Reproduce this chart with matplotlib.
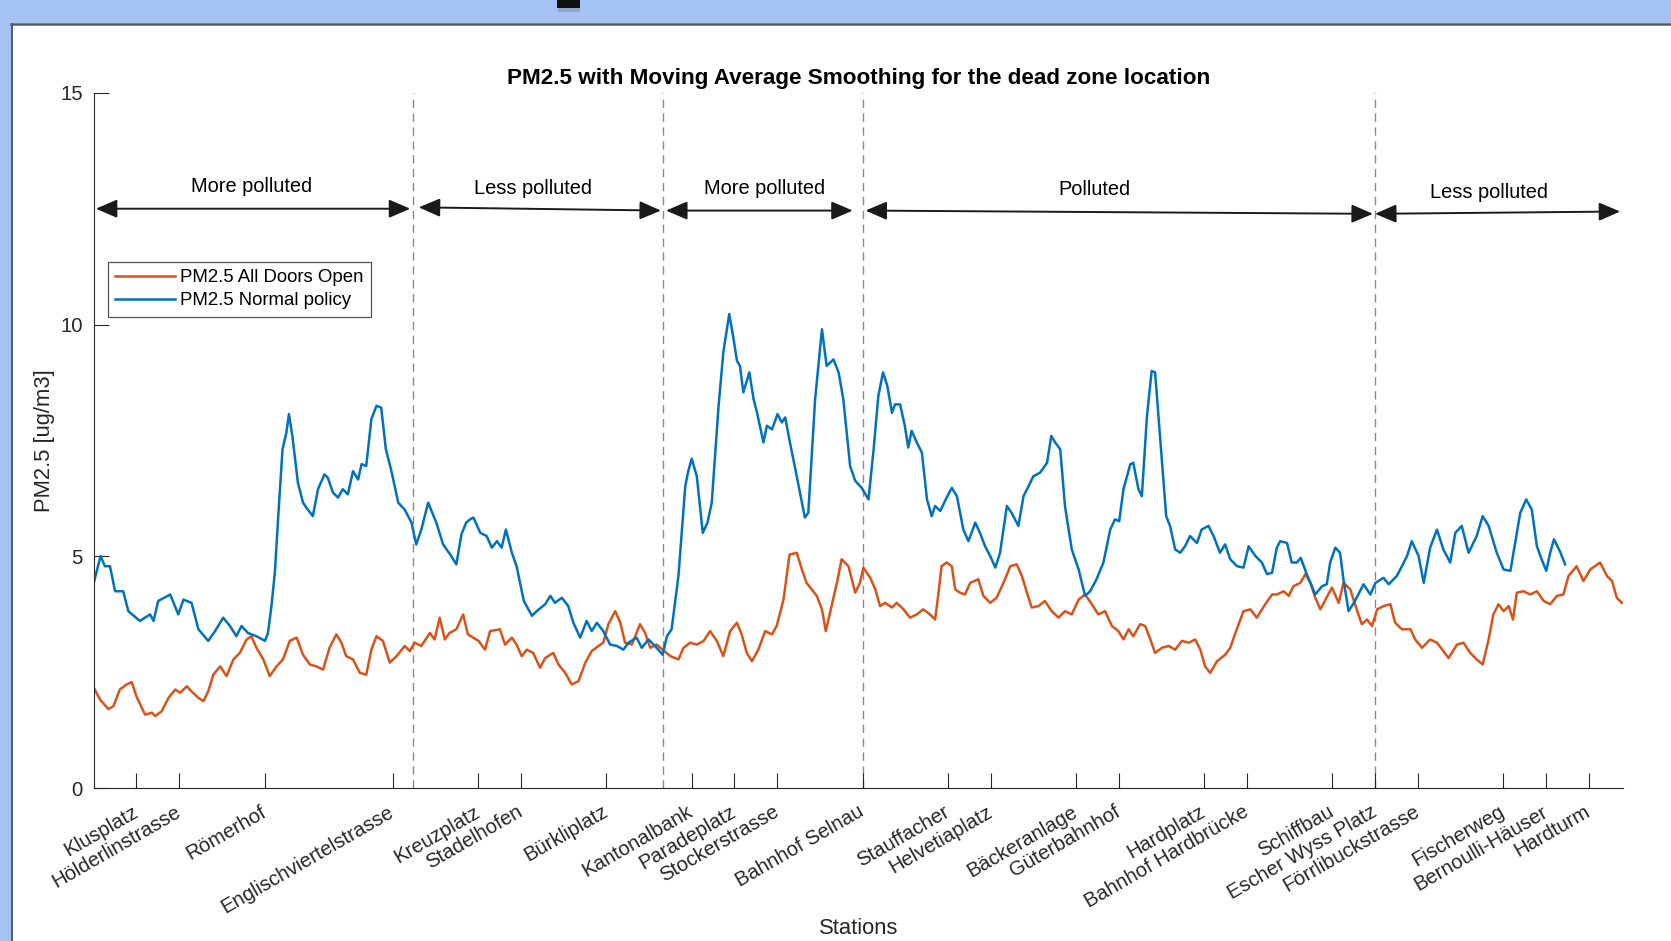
import matplotlib
matplotlib.use("Agg")
import matplotlib.pyplot as plt
from matplotlib.patches import Rectangle
from matplotlib.lines import Line2D

plt.rcParams['font.family'] = ['Liberation Sans', 'DejaVu Sans']

# station ticks along the route
stations = ["Klusplatz", "Hölderlinstrasse", "Römerhof", "Englischviertelstrasse",
            "Kreuzplatz", "Stadelhofen", "Bürkliplatz", "Kantonalbank", "Paradeplatz",
            "Stockerstrasse", "Bahnhof Selnau", "Stauffacher", "Helvetiaplatz",
            "Bäckeranlage", "Güterbahnhof", "Hardplatz", "Bahnhof Hardbrücke",
            "Schiffbau", "Escher Wyss Platz", "Förrlibuckstrasse", "Fischerweg",
            "Bernoulli-Häuser", "Hardturm"]
station_pos = [1, 2, 4, 7, 9, 10, 12, 14, 15, 16, 18, 20, 21, 23, 24, 26, 27,
               29, 30, 31, 33, 34, 35]

# zone boundaries and labels
zone_bounds = [7.48, 13.32, 18.0, 30.0]
zone_names = ["More polluted", "Less polluted", "More polluted", "Polluted", "Less polluted"]
zone_start = [0.05, 7.61, 13.40, 18.07, 30.0]
zone_end = [7.41, 13.28, 17.77, 29.95, 35.74]
zone_y_start = [12.50, 12.53, 12.46, 12.46, 12.39]
zone_y_end = [12.50, 12.46, 12.46, 12.39, 12.44]
zone_text_x = [3.70, 10.29, 15.71, 23.44, 32.67]
zone_text_y = [12.97, 12.93, 12.93, 12.91, 12.84]

# PM2.5 Normal policy
normal_x = [0.00, 0.16, 0.26, 0.38, 0.50, 0.69, 0.81, 1.08, 1.32, 1.40, 1.51, 1.79, 1.98, 2.10,
            2.29, 2.45, 2.68, 2.84, 3.03, 3.19, 3.34, 3.46, 3.61, 3.81, 4.01, 4.08, 4.16, 4.24,
            4.32, 4.42, 4.51, 4.57, 4.65, 4.78, 4.90, 4.98, 5.13, 5.25, 5.40, 5.48, 5.60, 5.72,
            5.83, 5.95, 6.07, 6.19, 6.27, 6.38, 6.50, 6.62, 6.73, 6.84, 6.97, 7.13, 7.28, 7.44,
            7.55, 7.67, 7.83, 8.02, 8.18, 8.37, 8.49, 8.61, 8.72,
            8.81, 8.89, 9.05, 9.20, 9.32, 9.44, 9.55, 9.65, 9.79, 9.90, 10.07, 10.26, 10.37,
            10.57, 10.69, 10.80, 10.96, 11.11, 11.23, 11.39, 11.54, 11.66, 11.78, 11.93, 12.09,
            12.25, 12.40, 12.52, 12.71, 12.83, 12.99, 13.18, 13.32, 13.42, 13.53, 13.69, 13.85,
            13.92, 14.00, 14.12, 14.26, 14.37, 14.47, 14.63, 14.74, 14.88, 14.98, 15.06, 15.13,
            15.21, 15.35, 15.45, 15.53, 15.68, 15.76, 15.88, 16.01, 16.11, 16.19, 16.30, 16.46,
            16.58, 16.65, 16.73, 16.89, 17.05, 17.16, 17.32, 17.44, 17.55,
            17.71, 17.83, 17.98, 18.14, 18.26, 18.37, 18.48, 18.58, 18.69, 18.76, 18.88, 18.99,
            19.07, 19.15, 19.27, 19.39, 19.51, 19.62, 19.70, 19.82, 19.97, 20.09, 20.21, 20.36,
            20.48, 20.64, 20.75, 20.87, 20.99, 21.11, 21.22, 21.38, 21.49, 21.65, 21.77, 21.89,
            22.00, 22.16, 22.32, 22.42, 22.51, 22.63, 22.74, 22.90, 23.06, 23.21, 23.33, 23.48,
            23.64, 23.80, 23.91, 24.01, 24.11, 24.27, 24.34, 24.46, 24.54, 24.66, 24.77, 24.85,
            24.97, 25.11, 25.20, 25.32, 25.44, 25.55, 25.67, 25.83, 25.94, 26.10, 26.22, 26.37,
            26.49,
            26.61, 26.77, 26.92, 27.04, 27.20, 27.35, 27.47, 27.59, 27.70, 27.78, 27.94, 28.05,
            28.17, 28.26, 28.40, 28.60, 28.76, 28.87, 28.95, 29.07, 29.18, 29.26, 29.38, 29.53,
            29.73, 29.89, 30.01, 30.20, 30.32, 30.51, 30.63, 30.75, 30.86, 31.02, 31.14, 31.29,
            31.45, 31.60, 31.76, 31.88, 32.03, 32.19, 32.38, 32.52, 32.66, 32.85, 33.01, 33.17,
            33.28, 33.40, 33.54, 33.67, 33.79, 33.90, 34.01, 34.10, 34.19, 34.33, 34.45]
normal_y = [4.43, 5.01, 4.79, 4.79, 4.25, 4.25, 3.82, 3.61, 3.75, 3.61, 4.04, 4.18, 3.75, 4.07,
            4.00, 3.43, 3.18, 3.39, 3.68, 3.50, 3.28, 3.50, 3.35, 3.28, 3.18, 3.35, 3.93, 4.65,
            5.87, 7.31, 7.67, 8.07, 7.60, 6.59, 6.16, 6.05, 5.87, 6.45, 6.77, 6.70, 6.38, 6.27,
            6.45, 6.34, 6.84, 6.66, 6.99, 6.95, 7.96, 8.25, 8.21, 7.31, 6.84, 6.16, 6.01, 5.73,
            5.26, 5.58, 6.16, 5.73, 5.26, 5.01, 4.83, 5.48, 5.73,
            5.80, 5.84, 5.51, 5.44, 5.19, 5.33, 5.19, 5.58, 5.08, 4.79, 4.04, 3.72, 3.82,
            3.97, 4.15, 4.00, 4.11, 3.93, 3.57, 3.25, 3.61, 3.39, 3.57, 3.39, 3.10,
            3.07, 2.99, 3.14, 3.25, 3.03, 3.21, 3.03, 2.88, 3.28, 3.43, 4.58, 6.52,
            6.84, 7.11, 6.73, 5.51, 5.73, 6.16, 8.25, 9.40, 10.23, 9.69, 9.22, 9.11,
            8.54, 8.97, 8.39, 8.10, 7.46, 7.82, 7.74, 8.07, 7.89, 8.00, 7.46, 6.73,
            6.16, 5.84, 5.94, 8.39, 9.90, 9.11, 9.25, 8.97, 8.39,
            6.95, 6.63, 6.48, 6.23, 7.31, 8.46, 8.97, 8.68, 8.10, 8.28, 8.28, 7.82,
            7.35, 7.71, 7.46, 7.24, 6.23, 5.87, 6.09, 5.98, 6.27, 6.48, 6.30, 5.58,
            5.33, 5.73, 5.51, 5.22, 5.01, 4.76, 5.08, 6.09, 5.94, 5.66, 6.30, 6.52,
            6.73, 6.81, 7.02, 7.60, 7.46, 7.31, 6.09, 5.15, 4.72, 4.15, 4.25, 4.51,
            4.87, 5.58, 5.80, 5.76, 6.45, 6.99, 7.02, 6.45, 6.30, 8.03, 9.00, 8.97,
            7.53, 5.87, 5.66, 5.15, 5.08, 5.22, 5.44, 5.29, 5.58, 5.66, 5.44, 5.08,
            5.26,
            4.94, 4.79, 4.76, 5.22, 5.01, 4.87, 4.62, 4.65, 5.19, 5.33, 5.29, 4.87,
            4.87, 4.97, 4.62, 4.18, 4.36, 4.40, 4.87, 5.19, 5.08, 4.51, 3.82, 4.04,
            4.40, 4.18, 4.43, 4.54, 4.40, 4.58, 4.79, 5.01, 5.33, 5.01, 4.43, 5.19,
            5.58, 5.15, 4.87, 5.51, 5.66, 5.08, 5.44, 5.87, 5.66, 5.08, 4.72, 4.69,
            5.29, 5.94, 6.23, 6.01, 5.22, 4.94, 4.69, 5.08, 5.37, 5.11, 4.83]

# PM2.5 All Doors Open
open_x = [0.00, 0.15, 0.34, 0.46, 0.61, 0.77, 0.89, 1.00, 1.20, 1.36, 1.44, 1.59, 1.75, 1.91,
          2.02, 2.18, 2.29, 2.45, 2.57, 2.68, 2.80, 2.96, 3.11, 3.27, 3.42, 3.58, 3.69, 3.81,
          3.97, 4.12, 4.28, 4.43, 4.59, 4.75, 4.90, 5.06, 5.21, 5.37, 5.52, 5.68, 5.80, 5.91,
          6.07, 6.23, 6.38, 6.50, 6.62, 6.77, 6.93, 7.09, 7.28, 7.40, 7.51, 7.67, 7.87, 7.98,
          8.10, 8.22, 8.33, 8.49, 8.65, 8.76,
          9.01, 9.16, 9.28, 9.51, 9.63, 9.79, 9.90, 10.02, 10.14, 10.29, 10.45, 10.57, 10.76,
          10.88, 11.04, 11.19, 11.35, 11.51, 11.66, 11.82, 11.93, 12.05, 12.21, 12.33, 12.44,
          12.60, 12.79, 12.91, 13.03, 13.18, 13.32, 13.50, 13.69, 13.81, 13.96, 14.12, 14.28,
          14.43, 14.59, 14.74, 14.90, 15.06, 15.17, 15.29, 15.41, 15.56, 15.72, 15.88, 15.99,
          16.15, 16.29, 16.46, 16.58, 16.69, 16.81, 16.93, 17.05, 17.14, 17.24, 17.40, 17.51,
          17.67,
          17.83, 17.94, 18.02, 18.18, 18.30, 18.41, 18.53, 18.69, 18.80, 18.96, 19.11, 19.27,
          19.42, 19.58, 19.70, 19.78, 19.85, 19.97, 20.09, 20.17, 20.28, 20.40, 20.52, 20.71,
          20.83, 20.99, 21.14, 21.30, 21.46, 21.61, 21.73, 21.85, 21.96, 22.12, 22.27, 22.43,
          22.59, 22.74, 22.90, 23.06, 23.21, 23.37, 23.52, 23.68, 23.84, 23.99, 24.11, 24.23,
          24.34, 24.50, 24.62, 24.74, 24.85, 25.01, 25.17, 25.32, 25.48, 25.64, 25.79, 25.91,
          26.02, 26.14, 26.30, 26.49,
          26.61, 26.73, 26.92, 27.08, 27.23, 27.43, 27.59, 27.70, 27.86, 27.98, 28.09, 28.25,
          28.37, 28.49, 28.60, 28.72, 28.84, 28.99, 29.15, 29.26, 29.42, 29.57, 29.69, 29.81,
          29.93, 30.05, 30.20, 30.36, 30.47, 30.63, 30.83, 30.94, 31.10, 31.29, 31.45, 31.60,
          31.72, 31.92, 32.07, 32.23, 32.38, 32.52, 32.66, 32.77, 32.89, 33.01, 33.13, 33.23,
          33.32, 33.48, 33.63, 33.79, 33.95, 34.10, 34.26, 34.41, 34.53, 34.72, 34.88, 35.04,
          35.27, 35.43, 35.55, 35.66, 35.78]
open_y = [2.17, 1.91, 1.71, 1.77, 2.13, 2.24, 2.29, 1.98, 1.59, 1.63, 1.56, 1.66, 1.95, 2.13,
          2.06, 2.20, 2.09, 1.95, 1.88, 2.09, 2.45, 2.63, 2.42, 2.78, 2.92, 3.21, 3.28, 3.03,
          2.78, 2.42, 2.63, 2.78, 3.18, 3.25, 2.88, 2.67, 2.63, 2.56, 3.03, 3.32, 3.14, 2.85,
          2.78, 2.49, 2.45, 2.99, 3.28, 3.18, 2.71, 2.85, 3.07, 2.96, 3.14, 3.07, 3.35, 3.21,
          3.68, 3.21, 3.35, 3.43, 3.75, 3.32,
          3.18, 2.99, 3.39, 3.43, 3.10, 3.25, 3.10, 2.85, 2.99, 2.92, 2.60, 2.81, 2.92,
          2.67, 2.49, 2.24, 2.31, 2.71, 2.96, 3.07, 3.14, 3.54, 3.82, 3.57, 3.14,
          3.10, 3.54, 3.35, 3.03, 3.10, 2.99, 2.85, 2.78, 3.03, 3.14, 3.10, 3.18,
          3.39, 3.18, 2.85, 3.39, 3.57, 3.32, 2.92, 2.74, 2.99, 3.39, 3.32, 3.50,
          4.07, 5.04, 5.08, 4.72, 4.43, 4.29, 4.15, 3.86, 3.39, 3.79, 4.43, 4.94,
          4.79,
          4.22, 4.43, 4.76, 4.54, 4.29, 3.93, 4.00, 3.90, 4.00, 3.86, 3.68, 3.75,
          3.86, 3.75, 3.64, 4.22, 4.79, 4.87, 4.79, 4.29, 4.22, 4.18, 4.43, 4.51,
          4.15, 4.00, 4.11, 4.43, 4.79, 4.83, 4.58, 4.22, 3.90, 3.93, 4.04, 3.82,
          3.68, 3.82, 3.75, 4.07, 4.18, 3.97, 3.75, 3.82, 3.50, 3.39, 3.21, 3.43,
          3.28, 3.54, 3.50, 3.21, 2.92, 3.03, 3.07, 2.99, 3.18, 3.14, 3.21, 2.99,
          2.63, 2.49, 2.74, 2.88,
          3.03, 3.35, 3.82, 3.86, 3.68, 3.97, 4.18, 4.18, 4.25, 4.15, 4.36, 4.43,
          4.62, 4.43, 4.11, 3.86, 4.07, 4.33, 4.00, 4.43, 4.29, 3.86, 3.54, 3.64,
          3.50, 3.86, 3.93, 3.97, 3.57, 3.43, 3.43, 3.21, 3.03, 3.21, 3.14, 2.96,
          2.81, 3.10, 3.14, 2.92, 2.78, 2.67, 3.21, 3.75, 3.97, 3.82, 3.93, 3.64,
          4.22, 4.25, 4.18, 4.25, 4.04, 3.97, 4.15, 4.18, 4.58, 4.79, 4.47, 4.72,
          4.87, 4.58, 4.47, 4.11, 4.00]

W, H = 1671, 941
fig = plt.figure(figsize=(W / 100, H / 100), dpi=100, facecolor='white')

# slide background around the screenshot
slide_blue = '#a4c2f4'
fig.add_artist(Rectangle((0, 1 - 23 / H), 1, 23 / H, transform=fig.transFigure,
                         facecolor=slide_blue, edgecolor='none'))
fig.add_artist(Rectangle((0, 0), 11 / W, 1, transform=fig.transFigure,
                         facecolor=slide_blue, edgecolor='none'))
fig.add_artist(Rectangle((558 / W, 1 - 12 / H), 22 / W, 8 / H, transform=fig.transFigure,
                         facecolor='#7f8aa0', edgecolor='none', alpha=0.5))
fig.add_artist(Rectangle((557 / W, 1 - 8 / H), 23 / W, 8 / H, transform=fig.transFigure,
                         facecolor='#111111', edgecolor='none'))
fig.add_artist(Line2D([11 / W, 1], [1 - 24 / H, 1 - 24 / H], transform=fig.transFigure,
                      color='#5a5a5a', lw=1.8))
fig.add_artist(Line2D([11.5 / W, 11.5 / W], [0, 1 - 24 / H], transform=fig.transFigure,
                      color='#5a5a5a', lw=1.4))

ax = fig.add_axes([93.75 / W, 1 - 788.3 / H, 1529 / W, (788.3 - 92.8) / H])

ax.plot(open_x, open_y, color='#D95319', lw=1.8, label='PM2.5 All Doors Open')
ax.plot(normal_x, normal_y, color='#0072BD', lw=1.8, label='PM2.5 Normal policy')

for xb in zone_bounds:
    ax.axvline(xb, color='#8a8a8a', lw=1.0, ls=(0, (6, 4)), zorder=1)

for i in range(len(zone_names)):
    ax.annotate('', xy=(zone_end[i], zone_y_end[i]), xytext=(zone_start[i], zone_y_start[i]),
                arrowprops=dict(arrowstyle='<|-|>,head_length=0.65,head_width=0.28',
                                color='#1a1a1a', lw=1.4, shrinkA=0, shrinkB=0,
                                mutation_scale=20))
    ax.text(zone_text_x[i], zone_text_y[i], zone_names[i], ha='center', va='center',
            fontsize=14.4, color='black')

ax.set_xlim(0, 35.8)
ax.set_ylim(0, 15)
ax.set_yticks([0, 5, 10, 15])
ax.set_xticks(station_pos)
ax.set_xticklabels(stations, rotation=30, ha='right', va='center', rotation_mode='anchor')

for side in ['top', 'right']:
    ax.spines[side].set_visible(False)
for side in ['left', 'bottom']:
    ax.spines[side].set_color('#262626')
    ax.spines[side].set_linewidth(0.8)

ax.tick_params(axis='both', direction='in', length=11, width=0.8, colors='#262626',
               labelsize=14.6)
ax.tick_params(axis='y', pad=8)
ax.tick_params(axis='x', pad=16)

ax.set_title('PM2.5 with Moving Average Smoothing for the dead zone location',
             fontsize=16.2, fontweight='bold', pad=6)
ax.set_xlabel('Stations', fontsize=15.8, color='#262626')
# the reference crops this label at the bottom edge; keep it just inside
ax.xaxis.set_label_coords(0.5, (788.3 - 918) / (788.3 - 92.8))
ax.set_ylabel('PM2.5 [ug/m3]', fontsize=15.8, color='#262626')
ax.yaxis.label.set_va('center')
ax.yaxis.set_label_coords((44.5 - 93.75) / 1529, 0.5)

leg = ax.legend(loc='upper left', bbox_to_anchor=(0.009, 0.757), borderaxespad=0,
                fancybox=False, edgecolor='#555555', fontsize=13.4, handlelength=3.2,
                handletextpad=0.3, labelspacing=0.33, borderpad=0.4, framealpha=1)
leg.get_frame().set_linewidth(0.9)

fig.savefig('out.png', dpi=100)
